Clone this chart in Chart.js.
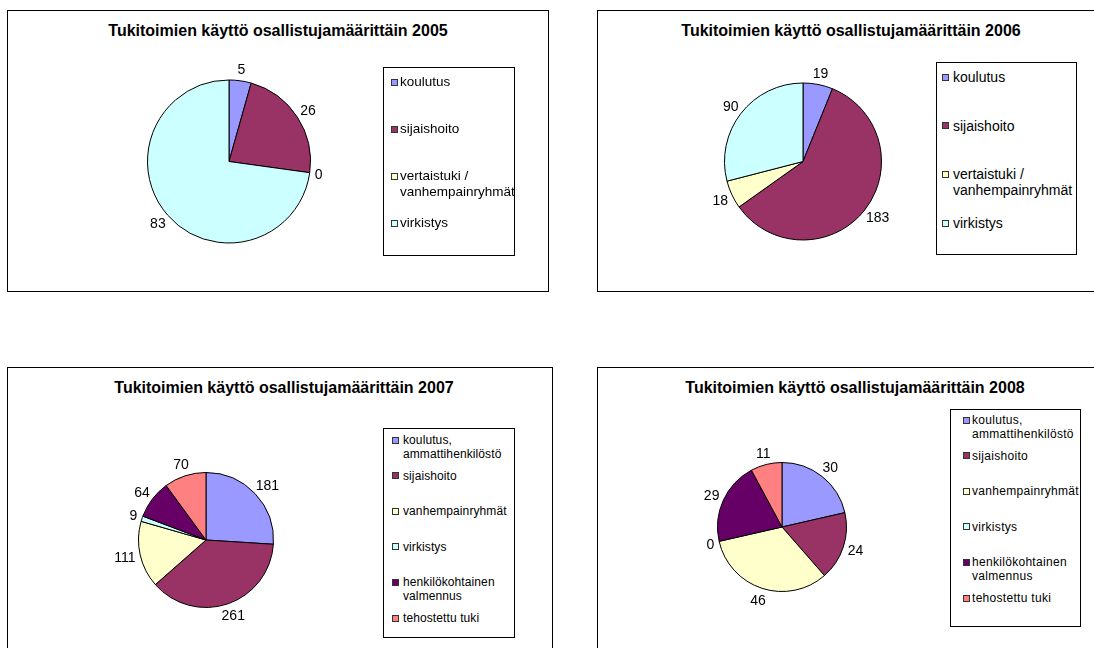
<!DOCTYPE html>
<html>
<head>
<meta charset="utf-8">
<script src="https://cdn.jsdelivr.net/npm/chart.js@4.4.0/dist/chart.umd.min.js"></script>
<style>
    body { margin: 0; background: #fff; }
    #page { position: relative; width: 1094px; height: 648px; overflow: hidden; font-family: "Liberation Sans", Arial, sans-serif; }
    .box { position: absolute; border: 1px solid #000; box-sizing: border-box; background: #fff; }
    .title { position: absolute; font-weight: bold; font-size: 16px; white-space: nowrap; transform: translate(-50%, -50%); color: #000; }
    canvas { position: absolute; }
    .legend { position: absolute; border: 1px solid #000; box-sizing: border-box; background: #fff; }
    .legend-item { position: absolute; white-space: nowrap; color: #000; }
    .swatch { position: absolute; width: 7px; height: 7px; border: 1px solid #333; box-sizing: border-box; }
</style>
</head>
<body>
<div id="page"></div>
<script>
// data
const titles = [
    'Tukitoimien käyttö osallistujamäärittäin 2005',
    'Tukitoimien käyttö osallistujamäärittäin 2006',
    'Tukitoimien käyttö osallistujamäärittäin 2007',
    'Tukitoimien käyttö osallistujamäärittäin 2008'
];
const labelsOld = ['koulutus', 'sijaishoito', ['vertaistuki /', 'vanhempainryhmät'], 'virkistys'];
const labelsNew = [['koulutus,', 'ammattihenkilöstö'], 'sijaishoito', 'vanhempainryhmät', 'virkistys', ['henkilökohtainen', 'valmennus'], 'tehostettu tuki'];
const values2005 = [5, 26, 0, 83];
const values2006 = [19, 183, 18, 90];
const values2007 = [181, 261, 111, 9, 64, 70];
const values2008 = [30, 24, 46, 0, 29, 11];
const colors = ['#9999FF', '#993366', '#FFFFCC', '#CCFFFF', '#660066', '#FF8080'];

// layout (page pixels)
const layouts = [
    { box: [7, 10, 542, 282], titleX: 278, titleY: 31, pie: [229, 161.5, 82],
      legend: [383, 67, 132, 189], first: 82, pitch: 47, font: 13.5, lh: 16, sw: 8, tx: 17 },
    { box: [597, 10, 520, 282], titleX: 851, titleY: 31, pie: [803, 161.5, 79],
      legend: [936, 62, 141, 193], first: 77, pitch: 48.7, font: 14, lh: 16, sw: 6, tx: 17 },
    { box: [7, 367, 546, 300], titleX: 284, titleY: 388, pie: [206, 540, 68],
      legend: [383, 428, 132, 210], first: 440, pitch: 35.6, font: 12, lh: 14, sw: 9, tx: 20, ls: 0.1 },
    { box: [597, 367, 520, 300], titleX: 855, titleY: 388, pie: [782, 527, 65],
      legend: [950, 409, 131, 218], first: 420, pitch: 35.6, font: 12, lh: 14, sw: 13, tx: 22, ls: 0.3 }
];

const outsideLabels = {
    id: 'outsideLabels',
    afterDatasetsDraw(chart) {
        const ctx = chart.ctx;
        const meta = chart.getDatasetMeta(0);
        const values = chart.data.datasets[0].data;
        ctx.save();
        ctx.font = '14px "Liberation Sans", Arial, sans-serif';
        ctx.fillStyle = '#000';
        ctx.textAlign = 'center';
        ctx.textBaseline = 'middle';
        meta.data.forEach((arc, i) => {
            const p = arc.getProps(['x', 'y', 'startAngle', 'endAngle', 'outerRadius'], true);
            const mid = (p.startAngle + p.endAngle) / 2;
            const text = String(values[i]);
            const w = ctx.measureText(text).width;
            const dx = Math.cos(mid), dy = Math.sin(mid);
            const d = p.outerRadius + 5;
            const x = p.x + dx * d + dx * w / 2;
            const y = p.y + dy * d + dy * 7;
            ctx.fillText(text, x, y + 1);
        });
        ctx.restore();
    }
};

function makePie(index, labels, values) {
    const page = document.getElementById('page');
    const L = layouts[index];
    const [bx, by, bw, bh] = L.box;

    const box = document.createElement('div');
    box.className = 'box';
    Object.assign(box.style, { left: bx + 'px', top: by + 'px', width: bw + 'px', height: bh + 'px' });
    page.appendChild(box);

    const title = document.createElement('div');
    title.className = 'title';
    title.textContent = titles[index];
    Object.assign(title.style, { left: L.titleX + 'px', top: L.titleY + 'px' });
    page.appendChild(title);

    const canvas = document.createElement('canvas');
    canvas.width = bw;
    canvas.height = bh;
    Object.assign(canvas.style, { left: bx + 'px', top: by + 'px' });
    page.appendChild(canvas);

    const [cx, cy, r] = L.pie;
    const chart = new Chart(canvas.getContext('2d'), {
        type: 'pie',
        data: {
            labels: labels,
            datasets: [{
                data: values,
                backgroundColor: colors.slice(0, values.length),
                borderColor: '#000',
                borderWidth: 1,
                hoverOffset: 0
            }]
        },
        options: {
            responsive: false,
            animation: false,
            events: [],
            layout: {
                padding: {
                    left: cx - r - bx,
                    top: cy - r - by,
                    right: bw - (cx + r - bx),
                    bottom: bh - (cy + r - by)
                }
            },
            plugins: {
                legend: { display: false },
                tooltip: { enabled: false }
            }
        },
        plugins: [outsideLabels]
    });

    // legend box built from the chart's labels and colours
    const [lx, ly, lw, lh] = L.legend;
    const legend = document.createElement('div');
    legend.className = 'legend';
    Object.assign(legend.style, { left: lx + 'px', top: ly + 'px', width: lw + 'px', height: lh + 'px' });
    chart.data.labels.forEach((lab, i) => {
        const lines = Array.isArray(lab) ? lab : [lab];
        const centerY = L.first + i * L.pitch - ly - 1;
        const sw = document.createElement('div');
        sw.className = 'swatch';
        Object.assign(sw.style, {
            left: (L.sw - 1) + 'px',
            top: (centerY - 3.5) + 'px',
            background: chart.data.datasets[0].backgroundColor[i]
        });
        legend.appendChild(sw);
        const item = document.createElement('div');
        item.className = 'legend-item';
        item.innerHTML = lines.join('<br>');
        Object.assign(item.style, {
            left: (L.tx - 1) + 'px',
            top: (centerY - L.lh / 2) + 'px',
            fontSize: L.font + 'px',
            lineHeight: L.lh + 'px',
            letterSpacing: (L.ls || 0) + 'px'
        });
        legend.appendChild(item);
    });
    page.appendChild(legend);
    return chart;
}

document.addEventListener('DOMContentLoaded', () => {
    makePie(0, labelsOld, values2005);
    makePie(1, labelsOld, values2006);
    makePie(2, labelsNew, values2007);
    makePie(3, labelsNew, values2008);
});
</script>
</body>
</html>
